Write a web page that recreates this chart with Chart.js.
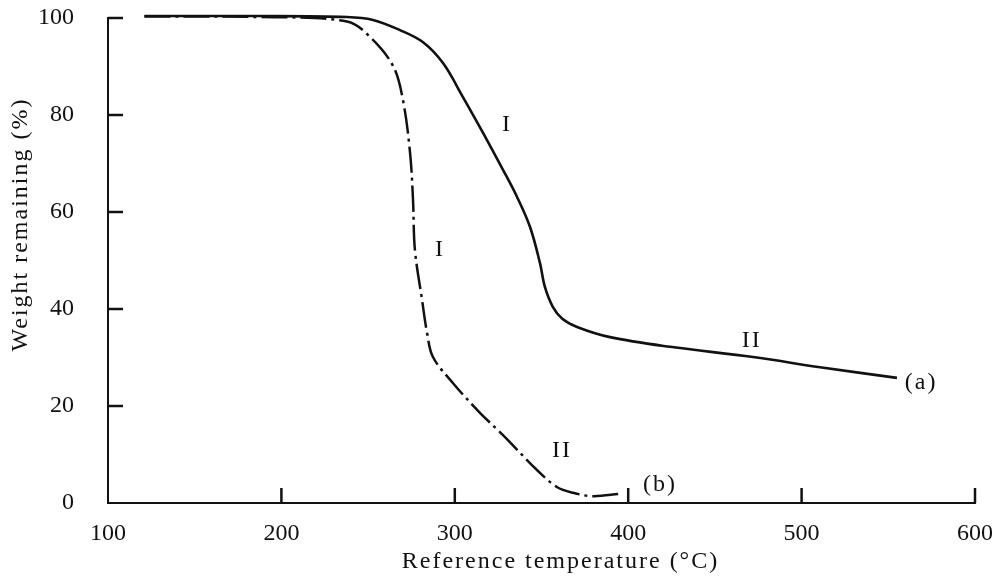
<!DOCTYPE html>
<html>
<head>
<meta charset="utf-8">
<script src="https://cdn.jsdelivr.net/npm/chart.js@4.4.1/dist/chart.umd.min.js"></script>
<style>
html,body{margin:0;padding:0;background:#fff;}
#wrap{width:999px;height:578px;}
</style>
</head>
<body>
<div id="wrap"><canvas id="c" width="999" height="578"></canvas></div>
<script>
// Curve (a): solid line
const tempA = [121, 186, 237.8, 252.8, 268.4, 281.7, 293.2, 304.7, 316.3, 327.8, 335.9, 343.4, 349.1, 352.0, 356.6, 362.0, 370.5, 389.5, 424.1, 472.0, 510.6, 555.0];
const weightA = [100.4, 100.4, 100.2, 99.6, 97.5, 95.0, 90.7, 83.7, 76.3, 68.7, 63.1, 56.9, 49.5, 44.5, 40.4, 38.0, 36.3, 34.2, 32.2, 30.1, 28.0, 25.8];
// Curve (b): dash-dot line
const tempB = [121, 186, 237.8, 251.1, 264.4, 270.1, 274.2, 275.9, 277.0, 281.1, 284.0, 287.4, 299.0, 314.5, 327.8, 347.4, 358.9, 368.2, 379.7, 395.3];
const weightB = [100.3, 100.2, 99.3, 96.1, 90.1, 83.1, 72.2, 62.5, 52.2, 41.9, 35.1, 30.1, 24.7, 18.6, 14.0, 6.8, 3.3, 2.1, 1.4, 1.9];
// Axis tick labels
const xTicks = [100, 200, 300, 400, 500, 600];
const yTicks = [0, 20, 40, 60, 80, 100];
// Axis titles
const xTitle = 'Reference temperature (°C)';
const yTitle = 'Weight remaining (%)';
// Text annotations on the curves (data coordinates)
const notes = [
  {text: 'I', x: 330.1, y: 77.9},
  {text: 'II', x: 471.3, y: 33.4},
  {text: '(a)', x: 568.9, y: 24.9},
  {text: 'I', x: 291.5, y: 52.2},
  {text: 'II', x: 361.8, y: 10.7},
  {text: '(b)', x: 418.3, y: 3.7}
];

const serif = "'Liberation Serif', 'DejaVu Serif', serif";

const tickPlugin = {
  id: 'innerTicks',
  afterDraw(chart) {
    const ctx = chart.ctx;
    const xs = chart.scales.x, ys = chart.scales.y;
    ctx.save();
    ctx.strokeStyle = '#111';
    ctx.lineWidth = 2.5;
    ctx.lineCap = 'butt';
    xTicks.forEach(v => {
      if (v === xs.min) return;
      const px = xs.getPixelForValue(v);
      ctx.beginPath();
      ctx.moveTo(px, ys.bottom);
      ctx.lineTo(px, ys.bottom - 15);
      ctx.stroke();
    });
    yTicks.forEach(v => {
      if (v === ys.min) return;
      const py = ys.getPixelForValue(v);
      ctx.beginPath();
      ctx.moveTo(xs.left, py);
      ctx.lineTo(xs.left + 15, py);
      ctx.stroke();
    });
    ctx.fillStyle = '#111';
    ctx.textAlign = 'center';
    ctx.textBaseline = 'middle';
    const hasLS = ('letterSpacing' in ctx);
    if (hasLS) ctx.letterSpacing = '2px';
    ctx.font = '24px ' + serif;
    notes.forEach(n => {
      ctx.fillText(n.text, xs.getPixelForValue(n.x), ys.getPixelForValue(n.y));
    });
    // axis titles
    ctx.fillText(xTitle, (xs.left + xs.right) / 2 + 19, xs.bottom - 16);
    ctx.save();
    ctx.translate(21, (ys.top + ys.bottom) / 2 - 36);
    ctx.rotate(-Math.PI / 2);
    ctx.fillText(yTitle, 0, 0);
    ctx.restore();
    if (hasLS) ctx.letterSpacing = '0px';
    ctx.restore();
  }
};

const toPts = (xa, ya) => xa.map((x, i) => ({x: x, y: ya[i]}));

new Chart(document.getElementById('c'), {
  type: 'line',
  data: {
    datasets: [
      {
        label: '(a)',
        data: toPts(tempA, weightA),
        borderColor: '#111',
        borderWidth: 2.6,
        pointRadius: 0,
        tension: 0.35,
        clip: false,
        fill: false
      },
      {
        label: '(b)',
        data: toPts(tempB, weightB),
        borderColor: '#111',
        borderWidth: 2.5,
        borderDash: [26, 5, 3, 5],
        pointRadius: 0,
        tension: 0.35,
        clip: false,
        fill: false
      }
    ]
  },
  options: {
    responsive: false,
    animation: false,
    layout: {padding: {left: 0, right: 24, top: 18, bottom: 0}},
    plugins: {legend: {display: false}, tooltip: {enabled: false}},
    scales: {
      x: {
        type: 'linear',
        min: 100, max: 600,
        afterBuildTicks: s => { s.ticks = xTicks.map(v => ({value: v})); },
        afterFit: s => { s.height = 75; s.paddingLeft = 0; s.paddingRight = 0; },
        grid: {display: true, drawOnChartArea: false, drawTicks: false},
        border: {display: true, color: '#111', width: 2},
        ticks: {color: '#111', font: {family: serif, size: 24}, padding: 16, maxRotation: 0},
        title: {display: false}
      },
      y: {
        type: 'linear',
        min: 0, max: 100,
        afterBuildTicks: s => { s.ticks = yTicks.map(v => ({value: v})); },
        afterFit: s => { s.width = 108; s.paddingTop = 0; s.paddingBottom = 0; },
        grid: {display: true, drawOnChartArea: false, drawTicks: false},
        border: {display: true, color: '#111', width: 2},
        ticks: {color: '#111', font: {family: serif, size: 24}, padding: 34},
        title: {display: false}
      }
    }
  },
  plugins: [tickPlugin]
});
</script>
</body>
</html>
